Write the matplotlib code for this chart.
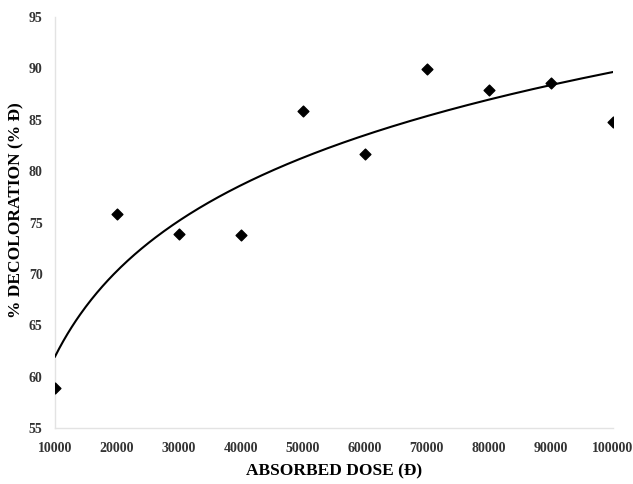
import numpy as np
import matplotlib
matplotlib.use("Agg")
import matplotlib.pyplot as plt

dose = [10000, 20000, 30000, 40000, 50000, 60000, 70000, 80000, 90000, 100000]
decoloration = [58.9, 75.8, 73.9, 73.8, 85.9, 81.7, 89.9, 87.9, 88.6, 84.8]
x_ticks = [10000, 20000, 30000, 40000, 50000, 60000, 70000, 80000, 90000, 100000]
y_ticks = [55, 60, 65, 70, 75, 80, 85, 90, 95]

plt.rcParams['font.family'] = ['Liberation Serif', 'DejaVu Serif']

fig = plt.figure(figsize=(6.33, 4.84), dpi=100)
ax = fig.add_axes([0.0869, 0.1157, 0.8811, 0.849])

# logarithmic trend line
coef = np.polyfit(np.log(dose), decoloration, 1)
xs = np.linspace(min(dose), max(dose), 400)
ax.plot(xs, coef[0] * np.log(xs) + coef[1], color='black', lw=1.5, zorder=2)

ax.scatter(dose, decoloration, marker='D', s=30, color='black', zorder=3)

ax.set_xlim(10000, 100000)
ax.set_ylim(55, 95)
ax.set_xticks(x_ticks)
ax.set_xticklabels([str(v) for v in x_ticks])
ax.set_yticks(y_ticks)
for lab in ax.get_xticklabels() + ax.get_yticklabels():
    lab.set_fontweight('bold')
    lab.set_fontsize(10)
    lab.set_color('#333333')
ax.tick_params(axis='x', length=0, pad=10)
ax.tick_params(axis='y', length=0, pad=9)

for s in ['top', 'right']:
    ax.spines[s].set_visible(False)
for s in ['left', 'bottom']:
    ax.spines[s].set_color('#e3e3e3')
    ax.spines[s].set_linewidth(1.0)
ax.spines['bottom'].set_zorder(0)
ax.spines['left'].set_zorder(0)

ax.set_xlabel('ABSORBED DOSE (Đ)', fontsize=12.5, fontweight='bold', labelpad=6)
ax.set_ylabel('% DECOLORATION (% Đ)', fontsize=12.5, fontweight='bold', labelpad=4)
ax.yaxis.set_label_coords(-0.054, 0.53)

fig.savefig('out.png', dpi=100)
